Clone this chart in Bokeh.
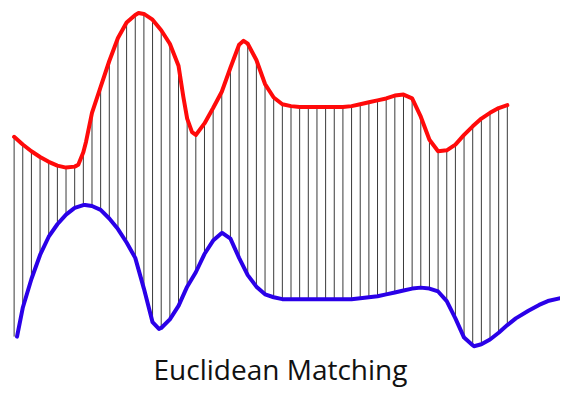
from bokeh.plotting import figure
from bokeh.models import Range1d
from bokeh.embed import file_html
from bokeh.resources import INLINE
from bokeh.core.properties import value

# Matching lines: x positions of the 58 sample points
line_x = [14 + 8.9 * i for i in range(58)]

# Upper (red) series value at each sample
red_at_lines = [142, 150, 157, 163, 168, 172, 174, 173, 158, 117,
                90, 63, 39, 23, 15, 14, 20, 31, 45, 68,
                123, 140, 128, 112, 95, 70, 46, 45, 62, 87,
                101, 108, 110, 111, 111, 111, 111, 111, 111, 110,
                108, 106, 104, 102, 99, 98, 102, 121, 145, 157,
                156, 150, 140, 131, 123, 117, 112, 109]

# Lower (blue) series value at each sample
blue_at_lines = [350, 320, 290, 265, 246, 233, 223, 216, 213, 214,
                 218, 227, 238, 252, 268, 300, 335, 341, 332, 318,
                 298, 283, 264, 250, 242, 248, 268, 286, 298, 306,
                 309, 311, 311, 311, 311, 311, 311, 311, 311, 311,
                 310, 309, 308, 306, 304, 302, 300, 299, 300, 303,
                 313, 331, 351, 359, 358, 353, 346, 338]

# Extra points
red_extra_x = [80, 88, 142, 188, 197, 250]
red_extra_y = [171, 147, 13, 100, 137, 42]
blue_start_x = [17]
blue_start_y = [350]
blue_extra_x = [87, 163, 228, 487]
blue_extra_y = [213, 342, 242, 360]
blue_tail_x = [530, 543, 554, 563, 576]
blue_tail_y = [331, 323, 317, 313, 310]

title_text = "Euclidean Matching"

red_pts = sorted(zip(line_x + red_extra_x, red_at_lines + red_extra_y))
blue_pts = sorted(zip(blue_start_x + line_x[1:] + blue_extra_x + blue_tail_x,
                      blue_start_y + blue_at_lines[1:] + blue_extra_y + blue_tail_y))

p = figure(width=560, height=387, output_backend="svg", toolbar_location=None,
           x_range=Range1d(0, 576), y_range=Range1d(403, 0),
           min_border=0, min_border_left=0, min_border_right=0,
           min_border_top=0, min_border_bottom=0)
p.axis.visible = False
p.grid.visible = False
p.outline_line_color = None
p.background_fill_color = "white"
p.border_fill_color = "white"

p.segment(x0=line_x, y0=red_at_lines, x1=line_x, y1=blue_at_lines,
          line_color="#3a3a3a", line_width=1)

p.line([q[0] for q in red_pts], [q[1] for q in red_pts],
       line_color="#ff0a0a", line_width=4, line_join="round", line_cap="round")
p.line([q[0] for q in blue_pts], [q[1] for q in blue_pts],
       line_color="#2a00e8", line_width=4, line_join="round", line_cap="round")

p.text(x=[288], y=[384], text=[title_text], text_align="center",
       text_baseline="middle", text_font=value("Open Sans"),
       text_font_size="28px", text_color="#111111")

open("out.html", "w").write(file_html(p, INLINE))
